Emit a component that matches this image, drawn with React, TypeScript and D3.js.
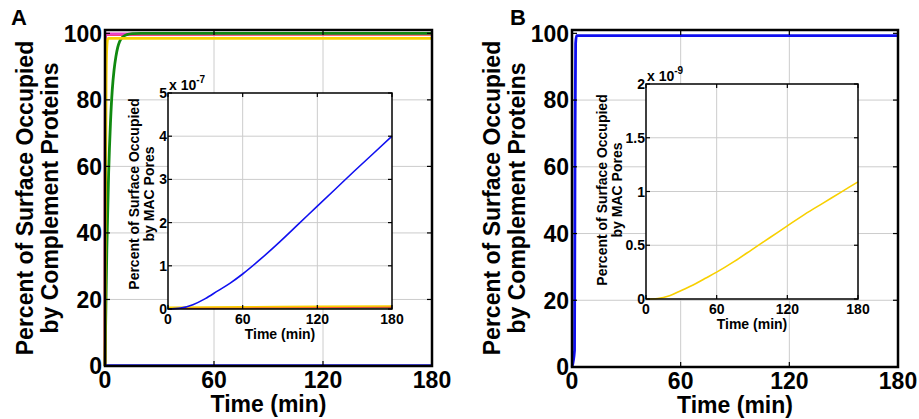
import * as d3 from 'd3';

// time ticks shared by all axes
const timeTicks = [0, 60, 120, 180];
const mainTicks = [0, 20, 40, 60, 80, 100];
const insetTicksA = [0, 1, 2, 3, 4, 5];
const insetTicksB = [0, 0.5, 1, 1.5, 2];

// panel A, main plot (% of surface)
const redMainT = [0, 0.1, 0.3, 180];
const redMainV = [0, 60, 99.6, 99.7];
const pinkMainT = [0, 0.1, 0.3, 180];
const pinkMainV = [0, 60, 99.8, 99.9];
const greenMainT = [0, 0.5, 1, 2, 3, 4, 5, 6, 7, 8, 10, 12, 15, 20, 180];
const greenMainV = [0, 18, 35, 58, 73, 83, 89, 93, 95.8, 97.5, 99, 99.6, 99.9, 100, 100];
const yellowMainT = [0, 0.3, 0.6, 1, 1.5, 2, 180];
const yellowMainV = [0, 50, 85, 96, 98.3, 98.5, 98.5];
const blueMainT = [0, 180];
const blueMainV = [0.1, 0.1];

// panel A, inset (MAC pores, x 10^-7)
const blueInsetT = [0, 10, 20, 30, 40, 50, 60, 75, 90, 105, 120, 135, 150, 165, 180];
const blueInsetV = [0, 0.02, 0.1, 0.24, 0.42, 0.6, 0.81, 1.17, 1.56, 1.97, 2.38, 2.79, 3.2, 3.6, 4.0];
const greenInsetT = [0, 180];
const greenInsetV = [0.02, 0.03];
const redInsetT = [0, 60, 120, 180];
const redInsetV = [0.02, 0.03, 0.04, 0.05];
const yellowInsetT = [0, 60, 120, 180];
const yellowInsetV = [0.04, 0.05, 0.06, 0.07];

// panel B, main plot
const blueBMainT = [0, 1.4, 1.7, 2.0, 2.5, 180];
const blueBMainV = [0, 5, 70, 97, 99.3, 99.3];

// panel B, inset (MAC pores, x 10^-9)
const yellowBInsetT = [0, 10, 20, 30, 40, 50, 60, 75, 90, 105, 120, 135, 150, 165, 180];
const yellowBInsetV = [0, 0.005, 0.03, 0.08, 0.13, 0.19, 0.25, 0.35, 0.46, 0.57, 0.68, 0.79, 0.89, 0.99, 1.09];

const FONT = '"Liberation Sans", Arial, sans-serif';
const BLUE = '#1010f0';
const YELLOW = '#f8d000';
const GREEN = '#108a10';
const RED = '#ff4040';
const PINK = '#e840c8';

type Series = { t: number[]; v: number[]; color: string };

const zip = (t: number[], v: number[]) => t.map((d, i) => [d, v[i]] as [number, number]);

type AxesProps = {
  left: number; right: number; top: number; bottom: number;
  yMax: number; yTicks: number[]; series: Series[];
  big: boolean;
};

const Axes = ({ left, right, top, bottom, yMax, yTicks, series, big }: AxesProps) => {
  const x = d3.scaleLinear().domain([0, 180]).range([left, right]);
  const y = d3.scaleLinear().domain([0, yMax]).range([bottom, top]);
  const line = d3.line<[number, number]>().x(d => x(d[0])).y(d => y(d[1])).curve(d3.curveMonotoneX);
  const tick = big ? 5 : 4;
  const fs = big ? 23 : 14;
  return (
    <g>
      {!big && <rect x={left} y={top} width={right - left} height={bottom - top} fill="#fff" />}
      {timeTicks.slice(1, -1).map(t => (
        <line key={'gx' + t} x1={x(t)} x2={x(t)} y1={top} y2={bottom} stroke="#cccccc" strokeWidth={1} />
      ))}
      {yTicks.slice(1, -1).map(t => (
        <line key={'gy' + t} x1={left} x2={right} y1={y(t)} y2={y(t)} stroke="#cccccc" strokeWidth={1} />
      ))}
      {series.map((s, i) => (
        <path key={i} d={line(zip(s.t, s.v)) || ''} fill="none" stroke={s.color}
          strokeWidth={big ? 2.8 : 1.6} strokeLinejoin="round" />
      ))}
      {timeTicks.map(t => (
        <g key={'tx' + t}>
          <line x1={x(t)} x2={x(t)} y1={bottom} y2={bottom - tick} stroke="#000" strokeWidth={1.2} />
          <line x1={x(t)} x2={x(t)} y1={top} y2={top + tick} stroke="#000" strokeWidth={1.2} />
          <text x={x(t)} y={bottom + (big ? 22 : 15)} textAnchor="middle" fontSize={fs}
            fontWeight="bold" fontFamily={FONT}>{t}</text>
        </g>
      ))}
      {yTicks.map(t => (
        <g key={'ty' + t}>
          <line x1={left} x2={left + tick} y1={y(t)} y2={y(t)} stroke="#000" strokeWidth={1.2} />
          <line x1={right} x2={right - tick} y1={y(t)} y2={y(t)} stroke="#000" strokeWidth={1.2} />
          <text x={left - (big ? 3 : 1)} y={y(t)} dy="0.36em" textAnchor="end" fontSize={fs}
            fontWeight="bold" fontFamily={FONT}>{t}</text>
        </g>
      ))}
      <rect x={left} y={top} width={right - left} height={bottom - top} fill="none"
        stroke="#000" strokeWidth={big ? 2.5 : 1.5} />
      <text x={(left + right) / 2} y={bottom + (big ? 46 : 30)} textAnchor="middle" fontSize={big ? 23 : 14}
        fontWeight="bold" fontFamily={FONT}>Time (min)</text>
    </g>
  );
};

const YTitle = ({ x, y, l1, l2, size, gap }: { x: number; y: number; l1: string; l2: string; size: number; gap: number }) => (
  <g transform={`translate(${x},${y}) rotate(-90)`}>
    <text x={0} y={0} textAnchor="middle" fontSize={size} fontWeight="bold" fontFamily={FONT}>{l1}</text>
    <text x={0} y={gap} textAnchor="middle" fontSize={size} fontWeight="bold" fontFamily={FONT}>{l2}</text>
  </g>
);

const Exp = ({ x, y, p }: { x: number; y: number; p: string }) => (
  <text x={x} y={y} fontSize={14} fontWeight="bold" fontFamily={FONT}>
    x 10<tspan dy={-7} fontSize={10}>{p}</tspan>
  </text>
);

export default function App() {
  const mainA: Series[] = [
    { t: redMainT, v: redMainV, color: RED },
    { t: pinkMainT, v: pinkMainV, color: PINK },
    { t: greenMainT, v: greenMainV, color: GREEN },
    { t: yellowMainT, v: yellowMainV, color: YELLOW },
    { t: blueMainT, v: blueMainV, color: BLUE },
  ];
  const insetA: Series[] = [
    { t: greenInsetT, v: greenInsetV, color: GREEN },
    { t: redInsetT, v: redInsetV, color: RED },
    { t: yellowInsetT, v: yellowInsetV, color: YELLOW },
    { t: blueInsetT, v: blueInsetV, color: BLUE },
  ];
  const mainB: Series[] = [{ t: blueBMainT, v: blueBMainV, color: BLUE }];
  const insetB: Series[] = [{ t: yellowBInsetT, v: yellowBInsetV, color: YELLOW }];

  return (
    <svg width={919} height={419} style={{ position: 'absolute', left: 0, top: 0, background: '#fff' }}>
      {/* panel A */}
      <text x={11} y={25} fontSize={22} fontWeight="bold" fontFamily={FONT}>A</text>
      <YTitle x={33} y={198} l1="Percent of Surface Occupied" l2="by Complement Proteins" size={23} gap={25} />
      <Axes left={105} right={432} top={30} bottom={366} yMax={101} yTicks={mainTicks} series={mainA} big />
      <YTitle x={139} y={194} l1="Percent of Surface Occupied" l2="by MAC Pores" size={14} gap={15} />
      <Axes left={168} right={392} top={93} bottom={309} yMax={5} yTicks={insetTicksA} series={insetA} big={false} />
      <Exp x={169} y={90} p="-7" />

      {/* panel B */}
      <text x={510} y={25} fontSize={22} fontWeight="bold" fontFamily={FONT}>B</text>
      <YTitle x={500} y={198} l1="Percent of Surface Occupied" l2="by Complement Proteins" size={23} gap={25} />
      <Axes left={572} right={898} top={30} bottom={367} yMax={101} yTicks={mainTicks} series={mainB} big />
      <YTitle x={607} y={190} l1="Percent of Surface Occupied" l2="by MAC Pores" size={14} gap={15} />
      <Axes left={646} right={858} top={84} bottom={299} yMax={2} yTicks={insetTicksB} series={insetB} big={false} />
      <Exp x={647} y={81} p="-9" />
    </svg>
  );
}
